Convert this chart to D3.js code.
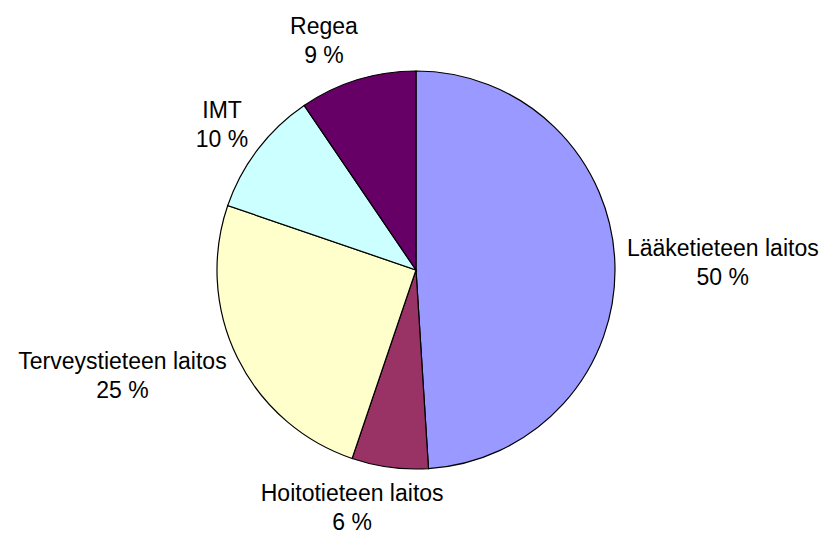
<!DOCTYPE html>
<head>
    <meta charset="UTF-8">
    <script src="https://cdn.jsdelivr.net/npm/d3@7"></script>
<style>
body {
  margin: 0;
  background: #fff;
}

svg {
  display: block;
}

.slice {
  stroke: #000;
  stroke-width: 1.2px;
}

.label {
  font-family: "Liberation Sans", Arial, sans-serif;
  font-size: 23px;
  fill: #000;
}
</style>
</head>
<body>
<script>

// slices clockwise from 12 o'clock
var names  = ["Lääketieteen laitos", "Hoitotieteen laitos", "Terveystieteen laitos", "IMT", "Regea"];
var values = [49.0, 6.2, 25.05, 10.25, 9.5];
var pctLabels = ["50 %", "6 %", "25 %", "10 %", "9 %"];
var colors = ["#9999ff", "#993366", "#ffffcc", "#ccffff", "#660066"];

var width  = 828,
    height = 536,
    cx = 416,
    cy = 270,
    radius = 199,
    lineH = 29;

var svg = d3.select("body").append("svg")
    .attr("width", width)
    .attr("height", height);

var pie = d3.pie().sort(null).value(function(d) { return d; });
var arc = d3.arc().innerRadius(0).outerRadius(radius);

var arcs = pie(values);

var g = svg.append("g").attr("transform", "translate(" + cx + "," + cy + ")");

g.selectAll(".slice")
    .data(arcs)
  .enter().append("path")
    .attr("class", "slice")
    .attr("fill", function(d, i) { return colors[i]; })
    .attr("d", arc);

// labels outside, pushed away from the pie edge along the mid angle
var labels = g.selectAll(".lbl")
    .data(arcs)
  .enter().append("g")
    .attr("class", "lbl");

labels.each(function(d, i) {
    var sel = d3.select(this);
    var t = sel.append("text")
        .attr("class", "label")
        .attr("text-anchor", "middle");
    t.append("tspan").attr("x", 0).attr("y", 0).text(names[i]);
    t.append("tspan").attr("x", 0).attr("y", lineH).text(pctLabels[i]);

    var w = t.node().getBBox().width;
    var h = lineH * 2;
    var a = (d.startAngle + d.endAngle) / 2;
    var s = Math.sin(a), c = Math.cos(a);
    var px = s * (radius + 12), py = -c * (radius + 12);
    var k = Math.max(-1, Math.min(1, s * 3));
    var bx = px + k * w / 2,
        by = py - c * h / 2;
    sel.attr("transform", "translate(" + bx + "," + (by - lineH / 2 + 8) + ")");
});

</script>
</body>
